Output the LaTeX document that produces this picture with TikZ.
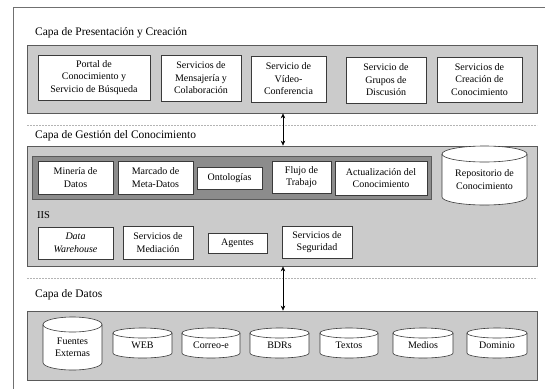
\documentclass[tikz,border=0pt]{standalone}
\usepackage{fontspec}
\setmainfont{Liberation Serif}
\usetikzlibrary{arrows.meta}
\definecolor{layergray}{HTML}{CBCBCB}
\definecolor{darkband}{HTML}{8C8C8C}
\definecolor{layerline}{HTML}{5A5A5A}
\definecolor{boxline}{HTML}{3A3A3A}
\definecolor{dashgray}{HTML}{B4B4B4}
\definecolor{framegray}{HTML}{707070}
\tikzset{
  layer/.style={draw=layerline, fill=layergray, line width=0.8pt, inner sep=0pt},
  band/.style={draw=layerline, fill=darkband, line width=0.8pt, inner sep=0pt},
  box/.style={draw=boxline, fill=white, line width=0.6pt, inner sep=0pt, align=center, font=\fontsize{10}{12.5}\selectfont},
  layerlabel/.style={anchor=west, inner sep=0pt, font=\fontsize{11.5}{13}\selectfont},
  cylbody/.style={draw=boxline, fill=white, line width=0.6pt},
  cyltext/.style={inner sep=0pt, align=center, font=\fontsize{10}{12.5}\selectfont},
  sepline/.style={draw=dashgray, line width=0.6pt, dash pattern=on 2pt off 1pt},
  framelines/.style={draw=framegray, line width=0.8pt},
  arr/.style={draw=black, line width=0.6pt, {Stealth[length=5pt,width=4.5pt]}-{Stealth[length=5pt,width=4.5pt]}},
}
% \rect[style]{name}{x1}{x2}{y1}{y2}{text}
\newcommand{\rect}[7][box]{%
  \pgfmathsetmacro{\rbw}{#4-#3}\pgfmathsetmacro{\rbh}{#6-#5}%
  \pgfmathsetmacro{\rbcx}{(#3+#4)/2}\pgfmathsetmacro{\rbcy}{-(#5+#6)/2}%
  \node[#1, minimum width=\rbw pt, minimum height=\rbh pt] (#2) at (\rbcx,\rbcy) {#7};}
% \cylnode{name}{x1}{x2}{ytop}{ybottom}{ry}{text}
\newcommand{\cylnode}[7]{%
  \pgfmathsetmacro{\cyrx}{(#3-#2)/2}%
  \pgfmathsetmacro{\cycx}{(#2+#3)/2}%
  \pgfmathsetmacro{\cyya}{-(#4+#6)}%
  \pgfmathsetmacro{\cyyb}{-(#5-#6)}%
  \pgfmathsetmacro{\cyty}{-((#4+#5)/2+#6/2)}%
  \filldraw[cylbody] (#2,\cyya) -- (#2,\cyyb)
    arc[start angle=180,end angle=360,x radius=\cyrx pt,y radius=#6 pt]
    -- (#3,\cyya)
    arc[start angle=0,end angle=180,x radius=\cyrx pt,y radius=#6 pt] -- cycle;
  \draw[cylbody, fill=none] (#2,\cyya)
    arc[start angle=180,end angle=360,x radius=\cyrx pt,y radius=#6 pt];
  \node[cyltext] (#1) at (\cycx,\cyty) {#7};}
\begin{document}
\begin{tikzpicture}[x=1pt,y=1pt]
\useasboundingbox (0,0) rectangle (545,-389);
\fill[white] (0,0) rectangle (545,-389);
% outer frame
\coordinate (ftop) at (545,-7);
\coordinate (fcorner) at (13,-7);
\coordinate (fbot) at (13,-389);
\draw[framelines] (ftop) -- (fcorner) -- (fbot);
\coordinate (ax) at (283,0);

% ---- Presentation layer
\node[layerlabel] (l1) at (35,-33) {Capa de Presentación y Creación};
\rect[layer]{pres}{27}{537}{45}{113}{}
\rect{portal}{38}{150}{55}{100}{Portal de\\Conocimiento y\\Servicio de Búsqueda}
\rect{mens}{161}{241}{55}{101}{Servicios de\\Mensajería y\\Colaboración}
\rect{video}{251}{326}{56}{102}{Servicio de\\Vídeo-\\Conferencia}
\rect{grupos}{346}{426}{57}{103}{Servicio de\\Grupos de\\Discusión}
\rect{crea}{437}{522}{57}{102}{Servicios de\\Creación de\\Conocimiento}

\coordinate (s1a) at (27,-125);
\coordinate (s1b) at (537,-125);
\draw[sepline] (s1a) -- (s1b);

% ---- Knowledge management layer
\node[layerlabel] (l2) at (35,-136) {Capa de Gestión del Conocimiento};
\rect[layer]{gest}{27}{537}{146}{266}{}
\rect[band]{bandbox}{32}{431}{156}{199}{}
\rect{mineria}{38}{113}{161}{194}{Minería de\\Datos}
\rect{marcado}{118}{193}{161}{194}{Marcado de\\Meta-Datos}
\rect{onto}{197}{262}{167}{189}{Ontologías}
\rect{flujo}{272}{331}{161}{193}{Flujo de\\Trabajo}
\rect{actual}{335}{427}{161}{195}{Actualización del\\Conocimiento}
\cylnode{repo}{442}{527}{146}{205}{8}{Repositorio de\\Conocimiento}
\node[layerlabel, font=\fontsize{10.5}{12}\selectfont] (iis) at (37,-215) {IIS};
\rect{dw}{38}{113}{227}{259}{\textit{Data}\\\textit{Warehouse}}
\rect{medi}{123}{193}{226}{259}{Servicios de\\Mediación}
\rect{agentes}{208}{267}{233}{253}{Agentes}
\rect{segur}{282}{352}{226}{258}{Servicios de\\Seguridad}

\coordinate (s2a) at (27,-278);
\coordinate (s2b) at (537,-278);
\draw[sepline] (s2a) -- (s2b);

% ---- Data layer
\node[layerlabel] (l3) at (35,-295) {Capa de Datos};
\rect[layer]{data}{27}{537}{311}{380}{}
\cylnode{fuentes}{43}{102}{317}{370}{7.5}{Fuentes\\Externas}
\cylnode{web}{113}{172}{328}{358}{5}{WEB}
\cylnode{correo}{182}{240}{328}{358}{5}{Correo-e}
\cylnode{bdrs}{250}{309}{328}{358}{5}{BDRs}
\cylnode{textos}{320}{378}{328}{358}{5}{Textos}
\cylnode{medios}{393}{453}{328}{358}{5}{Medios}
\cylnode{dominio}{467}{527}{328}{358}{5}{Dominio}

% ---- connectors
\draw[arr] (pres.south -| ax) -- (gest.north -| ax);
\draw[arr] (gest.south -| ax) -- (data.north -| ax);
\end{tikzpicture}
\end{document}
